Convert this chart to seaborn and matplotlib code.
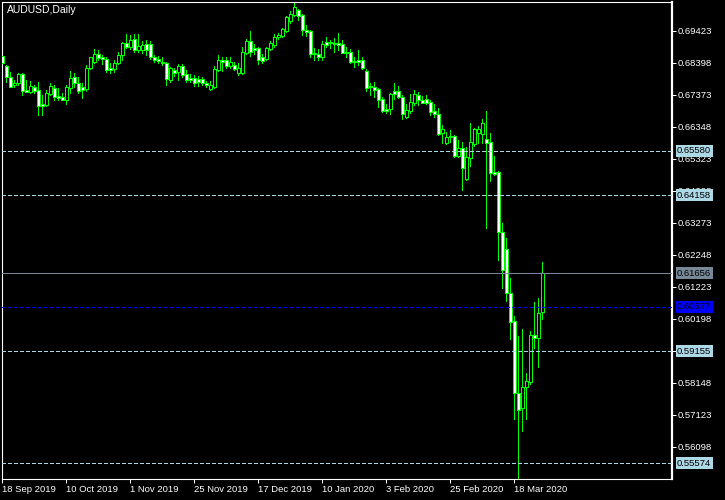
import matplotlib
matplotlib.use("Agg")
import matplotlib.pyplot as plt
import matplotlib.transforms as mtransforms
import numpy as np
import pandas as pd
import seaborn as sns

title = "AUDUSD,Daily"

# daily OHLC (bar 0 = 18 Sep 2019)
opens = [
    0.6861, 0.6829, 0.6794, 0.6768, 0.6774, 0.6803, 0.6752, 0.6746, 0.6762, 0.6752,
    0.6707, 0.6704, 0.6739, 0.6758, 0.6733, 0.6730, 0.6720, 0.6758, 0.6794, 0.6774,
    0.6762, 0.6755, 0.6822, 0.6842, 0.6867, 0.6858, 0.6851, 0.6822, 0.6819, 0.6838,
    0.6864, 0.6902, 0.6890, 0.6915, 0.6880, 0.6880, 0.6899, 0.6899, 0.6858, 0.6851,
    0.6842, 0.6838, 0.6784, 0.6816, 0.6810, 0.6829, 0.6803, 0.6790, 0.6790, 0.6787,
    0.6787, 0.6774, 0.6755, 0.6762, 0.6816, 0.6848, 0.6848, 0.6829, 0.6832, 0.6806,
    0.6806, 0.6870, 0.6909, 0.6886, 0.6886, 0.6858, 0.6851, 0.6883, 0.6896, 0.6922,
    0.6925, 0.6941, 0.6973, 0.6992, 0.7008, 0.6992, 0.6944, 0.6941, 0.6870, 0.6867,
    0.6858, 0.6906, 0.6906, 0.6902, 0.6902, 0.6899, 0.6874, 0.6874, 0.6845, 0.6848,
    0.6848, 0.6813, 0.6765, 0.6762, 0.6755, 0.6723, 0.6691, 0.6691, 0.6749, 0.6749,
    0.6730, 0.6666, 0.6685, 0.6710, 0.6736, 0.6720, 0.6723, 0.6714, 0.6685, 0.6675,
    0.6614, 0.6582, 0.6605, 0.6605, 0.6541, 0.6566, 0.6467, 0.6534, 0.6579, 0.6614,
    0.6611, 0.6595, 0.6586, 0.6490, 0.6490, 0.6298, 0.6243, 0.6102, 0.6013, 0.5782,
    0.5734, 0.5802, 0.5818, 0.5968, 0.5958, 0.6042,
]
highs = [
    0.6870, 0.6832, 0.6810, 0.6784, 0.6806, 0.6806, 0.6784, 0.6781, 0.6768, 0.6778,
    0.6736, 0.6752, 0.6774, 0.6768, 0.6758, 0.6742, 0.6768, 0.6813, 0.6806, 0.6794,
    0.6774, 0.6832, 0.6858, 0.6883, 0.6880, 0.6864, 0.6858, 0.6838, 0.6848, 0.6874,
    0.6906, 0.6931, 0.6928, 0.6931, 0.6931, 0.6909, 0.6912, 0.6909, 0.6864, 0.6861,
    0.6858, 0.6842, 0.6826, 0.6822, 0.6835, 0.6835, 0.6816, 0.6803, 0.6800, 0.6797,
    0.6794, 0.6781, 0.6781, 0.6829, 0.6864, 0.6858, 0.6858, 0.6858, 0.6842, 0.6838,
    0.6890, 0.6915, 0.6941, 0.6899, 0.6890, 0.6867, 0.6890, 0.6909, 0.6931, 0.6934,
    0.6950, 0.6989, 0.7005, 0.7030, 0.7011, 0.6995, 0.6960, 0.6944, 0.6886, 0.6883,
    0.6909, 0.6922, 0.6912, 0.6918, 0.6934, 0.6912, 0.6890, 0.6883, 0.6858, 0.6880,
    0.6858, 0.6819, 0.6774, 0.6778, 0.6758, 0.6730, 0.6707, 0.6742, 0.6774, 0.6765,
    0.6736, 0.6707, 0.6739, 0.6752, 0.6746, 0.6733, 0.6736, 0.6720, 0.6707, 0.6694,
    0.6640, 0.6618, 0.6624, 0.6608, 0.6592, 0.6586, 0.6570, 0.6646, 0.6630, 0.6637,
    0.6659, 0.6685, 0.6614, 0.6541, 0.6493, 0.6326, 0.6278, 0.6150, 0.6029, 0.5965,
    0.5987, 0.5846, 0.5981, 0.6074, 0.6086, 0.6202,
]
lows = [
    0.6826, 0.6778, 0.6762, 0.6762, 0.6768, 0.6736, 0.6746, 0.6742, 0.6742, 0.6672,
    0.6672, 0.6701, 0.6736, 0.6720, 0.6720, 0.6720, 0.6707, 0.6742, 0.6762, 0.6742,
    0.6726, 0.6749, 0.6819, 0.6838, 0.6848, 0.6835, 0.6810, 0.6806, 0.6810, 0.6835,
    0.6848, 0.6886, 0.6883, 0.6874, 0.6874, 0.6870, 0.6864, 0.6851, 0.6842, 0.6838,
    0.6832, 0.6768, 0.6778, 0.6797, 0.6784, 0.6794, 0.6778, 0.6778, 0.6765, 0.6765,
    0.6768, 0.6762, 0.6752, 0.6758, 0.6813, 0.6813, 0.6822, 0.6822, 0.6816, 0.6800,
    0.6803, 0.6867, 0.6861, 0.6867, 0.6835, 0.6838, 0.6848, 0.6880, 0.6890, 0.6915,
    0.6922, 0.6938, 0.6966, 0.6989, 0.6976, 0.6928, 0.6925, 0.6858, 0.6848, 0.6848,
    0.6848, 0.6890, 0.6886, 0.6874, 0.6880, 0.6870, 0.6858, 0.6838, 0.6826, 0.6832,
    0.6819, 0.6749, 0.6736, 0.6730, 0.6698, 0.6682, 0.6678, 0.6675, 0.6723, 0.6726,
    0.6659, 0.6662, 0.6678, 0.6704, 0.6704, 0.6710, 0.6707, 0.6672, 0.6666, 0.6608,
    0.6582, 0.6579, 0.6586, 0.6538, 0.6538, 0.6432, 0.6464, 0.6509, 0.6573, 0.6582,
    0.6582, 0.6310, 0.6461, 0.6480, 0.6208, 0.6118, 0.6077, 0.5955, 0.5699, 0.5506,
    0.5661, 0.5699, 0.5811, 0.5926, 0.5866, 0.6019,
]
closes = [
    0.6838, 0.6794, 0.6762, 0.6774, 0.6803, 0.6749, 0.6746, 0.6765, 0.6749, 0.6701,
    0.6701, 0.6742, 0.6765, 0.6730, 0.6726, 0.6720, 0.6762, 0.6790, 0.6774, 0.6749,
    0.6752, 0.6822, 0.6858, 0.6867, 0.6854, 0.6851, 0.6816, 0.6816, 0.6838, 0.6864,
    0.6902, 0.6890, 0.6912, 0.6880, 0.6893, 0.6896, 0.6880, 0.6858, 0.6848, 0.6845,
    0.6838, 0.6787, 0.6822, 0.6806, 0.6829, 0.6800, 0.6784, 0.6784, 0.6774, 0.6778,
    0.6774, 0.6768, 0.6768, 0.6819, 0.6848, 0.6842, 0.6829, 0.6842, 0.6819, 0.6822,
    0.6874, 0.6909, 0.6874, 0.6880, 0.6848, 0.6845, 0.6886, 0.6902, 0.6922, 0.6928,
    0.6947, 0.6986, 0.6995, 0.7018, 0.6989, 0.6944, 0.6938, 0.6867, 0.6867, 0.6858,
    0.6899, 0.6896, 0.6902, 0.6899, 0.6896, 0.6870, 0.6870, 0.6842, 0.6842, 0.6842,
    0.6822, 0.6758, 0.6762, 0.6752, 0.6720, 0.6685, 0.6685, 0.6739, 0.6739, 0.6730,
    0.6675, 0.6688, 0.6714, 0.6739, 0.6720, 0.6710, 0.6710, 0.6682, 0.6675, 0.6611,
    0.6627, 0.6602, 0.6602, 0.6541, 0.6566, 0.6502, 0.6538, 0.6586, 0.6627, 0.6627,
    0.6646, 0.6582, 0.6486, 0.6483, 0.6298, 0.6176, 0.6102, 0.6010, 0.5782, 0.5728,
    0.5802, 0.5821, 0.5968, 0.5958, 0.6038, 0.61656,
]

date_ticks = [0, 16, 32, 48, 64, 80, 96, 112, 128]
date_labels = ["18 Sep 2019", "10 Oct 2019", "1 Nov 2019", "25 Nov 2019", "17 Dec 2019",
               "10 Jan 2020", "3 Feb 2020", "25 Feb 2020", "18 Mar 2020"]

price_ticks = [0.69423, 0.68398, 0.67373, 0.66348, 0.65323, 0.64298, 0.63273,
               0.62248, 0.61223, 0.60198, 0.59173, 0.58148, 0.57123, 0.56098]

level_prices = [0.65580, 0.64158, 0.59155, 0.55574]
pending_price = 0.60577
bid_price = 0.61656

sns.set_theme(style="dark", rc={
    "axes.facecolor": "black",
    "figure.facecolor": "black",
    "axes.edgecolor": "white",
    "axes.grid": False,
    "text.color": "white",
    "xtick.color": "white",
    "ytick.color": "white",
})
plt.rcParams["font.family"] = ["Liberation Sans", "DejaVu Sans"]

df = pd.DataFrame({"open": opens, "high": highs, "low": lows, "close": closes})
df["bar"] = np.arange(len(df))
df["bull"] = df["close"] >= df["open"]
df["body_lo"] = df[["open", "close"]].min(axis=1)
df["body_h"] = (df["close"] - df["open"]).abs()

fig = plt.figure(figsize=(7.25, 5), dpi=100)
ax = fig.add_axes([2 / 725, 21 / 500, 670 / 725, 477 / 500])

lime = "#00ff00"
lw = 0.7
ax.vlines(df["bar"], df["low"], df["high"], color=lime, linewidth=lw,
          antialiased=False, zorder=2)
ax.bar(df["bar"], df["body_h"], bottom=df["body_lo"], width=0.62,
       color=np.where(df["bull"], "black", "white"), edgecolor=lime,
       linewidth=lw, antialiased=False, zorder=3)

# horizontal levels
for p in level_prices:
    ax.axhline(p, color="#add8e6", linewidth=lw, dashes=(3.2, 2.2), antialiased=False, zorder=4)
ax.axhline(pending_price, color="#0000ff", linewidth=lw, dashes=(3.2, 2.2), antialiased=False, zorder=4)
ax.axhline(bid_price, color="#778899", linewidth=lw, antialiased=False, zorder=4)

ax.set_xlim(-0.1, 167.4)
ax.set_ylim(0.55072, 0.70336)

ax.set_xticks(date_ticks)
ax.set_xticklabels(date_labels)
for lab in ax.get_xticklabels():
    lab.set_horizontalalignment("left")
ax.set_yticks(price_ticks)
ax.set_yticklabels([f"{v:.5f}" for v in price_ticks])
ax.yaxis.tick_right()
ax.tick_params(axis="x", bottom=True, length=3, width=0.72, pad=1, labelsize=6.8,
               colors="white", direction="out")
ax.tick_params(axis="y", right=True, left=False, labelright=True, labelleft=False,
               length=3, width=0.72, pad=1, labelsize=6.8, colors="white", direction="out")

for side in ["left", "top", "bottom"]:
    ax.spines[side].set_linewidth(0.8)
    ax.spines[side].set_color("white")
ax.spines["right"].set_linewidth(1.6)
ax.spines["right"].set_color("white")

# price tags on the right scale
trans = mtransforms.blended_transform_factory(ax.transAxes, ax.transData)
tags = [(p, "#add8e6", "black") for p in level_prices]
tags += [(pending_price, "#0000ff", "black"), (bid_price, "#778899", "black")]
for p, bg, fg in tags:
    ax.text(1 + 5 / 670, p, f"{p:.5f}", transform=trans, ha="left", va="center",
            fontsize=6.8, color=fg, zorder=10, clip_on=False,
            bbox=dict(boxstyle="square,pad=0.15", facecolor=bg, edgecolor="none"))

fig.text(7 / 725, 1 - 5 / 500, title, ha="left", va="top", fontsize=7.5, color="white")

fig.savefig("out.png", dpi=100, facecolor="black")
